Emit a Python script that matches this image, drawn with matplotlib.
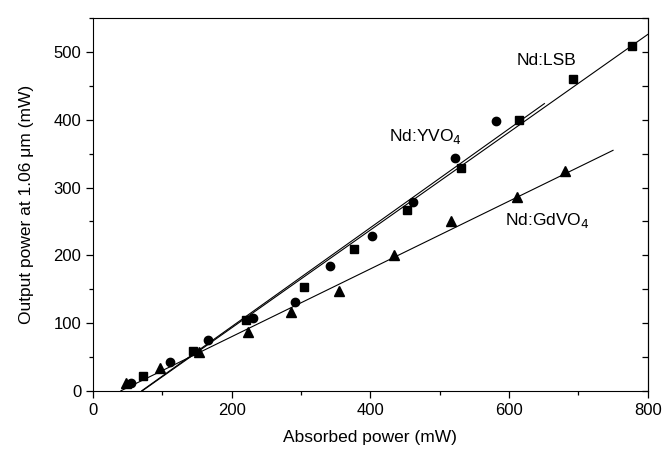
import numpy as np
import matplotlib
matplotlib.use("Agg")
import matplotlib.pyplot as plt
from matplotlib.ticker import MultipleLocator

plt.rcParams['font.family'] = ['Liberation Sans', 'DejaVu Sans']

# Nd:LSB (squares)
lsb_x = [72, 144, 221, 304, 376, 453, 530, 614, 692, 777]
lsb_y = [22, 59, 104, 153, 209, 267, 329, 400, 461, 509]

# Nd:YVO4 (circles)
yvo_x = [54, 111, 166, 231, 291, 341, 403, 462, 522, 581]
yvo_y = [11, 42, 75, 108, 131, 184, 228, 278, 344, 398]

# Nd:GdVO4 (triangles)
gdv_x = [47, 97, 153, 223, 285, 355, 434, 516, 612, 680]
gdv_y = [11, 34, 58, 87, 117, 148, 201, 250, 286, 325]

# fitted lines (end points)
lsb_fit_x = [71, 800]
lsb_fit_y = [0, 526]
yvo_fit_x = [70, 651]
yvo_fit_y = [0, 424]
gdv_fit_x = [40, 750]
gdv_fit_y = [0, 355]

fig = plt.figure(figsize=(6.65, 4.55), dpi=100)
ax = fig.add_axes([0.140, 0.141, 0.834, 0.819])

ax.plot(lsb_fit_x, lsb_fit_y, color='black', lw=0.8)
ax.plot(yvo_fit_x, yvo_fit_y, color='black', lw=0.8)
ax.plot(gdv_fit_x, gdv_fit_y, color='black', lw=0.8)

ax.plot(lsb_x, lsb_y, 's', color='black', ms=5.5, clip_on=False)
ax.plot(yvo_x, yvo_y, 'o', color='black', ms=6, clip_on=False)
ax.plot(gdv_x, gdv_y, '^', color='black', ms=6.5, clip_on=False)

ax.text(654, 487, 'Nd:LSB', fontsize=12.5, ha='center', va='center')
ax.text(480, 376, 'Nd:YVO$_4$', fontsize=12.5, ha='center', va='center')
ax.text(655, 251, 'Nd:GdVO$_4$', fontsize=12.5, ha='center', va='center')

ax.set_xlim(0, 800)
ax.set_ylim(0, 550)
ax.xaxis.set_major_locator(MultipleLocator(200))
ax.xaxis.set_minor_locator(MultipleLocator(100))
ax.yaxis.set_major_locator(MultipleLocator(100))
ax.yaxis.set_minor_locator(MultipleLocator(50))

ax.tick_params(which='both', direction='out', labelsize=12, width=0.9,
               bottom=True, left=True, top=False, right=False)
ax.tick_params(which='major', length=5)
ax.tick_params(which='minor', length=3)

# right side ticks pointing in, no labels
ax2 = ax.secondary_yaxis('right')
ax2.yaxis.set_major_locator(MultipleLocator(50))
ax2.tick_params(direction='in', length=4, width=0.9, labelright=False)

ax.set_xlabel('Absorbed power (mW)', fontsize=12.5, labelpad=9)
ax.set_ylabel('Output power at 1.06 \u03bcm (mW)', fontsize=12.5, labelpad=14)

fig.savefig('out.png', dpi=100)
